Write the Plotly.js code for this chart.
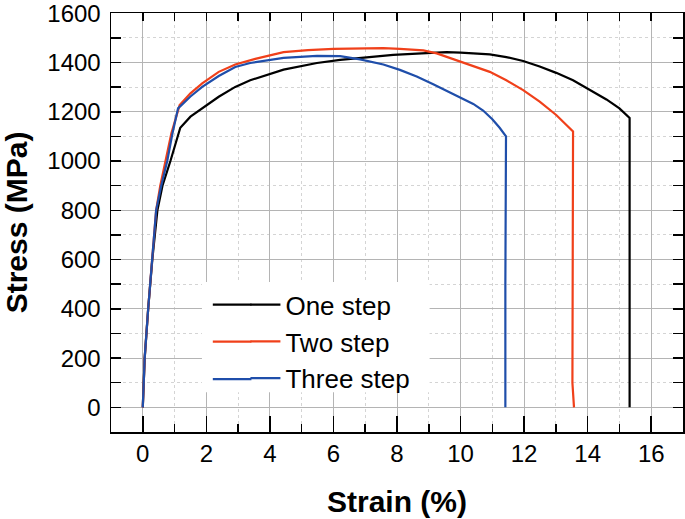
<!DOCTYPE html>
<html>
<head>
<meta charset="utf-8">
<script src="https://cdn.plot.ly/plotly-3.0.1.min.js"></script>
<style>html,body{margin:0;padding:0;background:#fff;}#chart{width:685px;height:519px;}</style>
</head>
<body>
<div id="chart"></div>
<script>
// Series names
const seriesNames = ["One step", "Two step", "Three step"];

// One step (black)
const oneStepStrain = [0, 0.06, 0.17, 0.30, 0.46, 0.62, 0.87, 1.05, 1.18, 1.5, 1.87, 2.39, 2.91, 3.38, 4.43, 5.48, 6.21, 7.05, 7.88, 8.93, 9.56, 10.0, 10.92, 11.44, 11.97, 12.49, 13.01, 13.54, 14.06, 14.59, 15.0, 15.32, 15.32];
const oneStepStress = [0, 200, 400, 600, 800, 900, 1000, 1080, 1135, 1180, 1214, 1261, 1301, 1328, 1371, 1398, 1411, 1422, 1431, 1438, 1442, 1440, 1433, 1422, 1406, 1384, 1358, 1328, 1291, 1250, 1214, 1175, 0];

// Two step (red)
const twoStepStrain = [0, 0.06, 0.17, 0.30, 0.42, 0.55, 0.71, 0.90, 1.16, 1.5, 1.87, 2.39, 2.91, 3.54, 4.43, 5.2, 6.0, 6.8, 7.57, 8.09, 8.83, 9.25, 9.66, 10.4, 10.92, 11.44, 11.97, 12.49, 13.01, 13.54, 13.52, 13.57];
const twoStepStress = [0, 200, 400, 600, 800, 900, 1000, 1113, 1227, 1275, 1315, 1362, 1392, 1415, 1442, 1450, 1455, 1458, 1458, 1455, 1449, 1437, 1419, 1388, 1362, 1328, 1288, 1241, 1187, 1120, 100, 0];

// Three step (blue)
const threeStepStrain = [0, 0.06, 0.17, 0.30, 0.42, 0.58, 0.77, 0.93, 1.11, 1.5, 1.87, 2.39, 2.91, 3.38, 4.43, 5.48, 6.21, 6.84, 7.57, 8.09, 8.62, 9.14, 9.66, 10.0, 10.4, 10.71, 11.0, 11.23, 11.43, 11.41, 11.41];
const threeStepStress = [0, 200, 400, 600, 800, 900, 1000, 1110, 1214, 1262, 1301, 1345, 1382, 1398, 1419, 1427, 1426, 1413, 1392, 1370, 1343, 1312, 1280, 1260, 1232, 1205, 1170, 1135, 1100, 500, 0];

const colors = ["#000000", "#f0401a", "#1f4eaa"];

// Axis ticks
const xTickVals = [0, 2, 4, 6, 8, 10, 12, 14, 16];
const yTickVals = [0, 200, 400, 600, 800, 1000, 1200, 1400, 1600];

const FONT = "Liberation Sans, Arial, sans-serif";

const xs = [oneStepStrain, twoStepStrain, threeStepStrain];
const ys = [oneStepStress, twoStepStress, threeStepStress];
// the third series is drawn on the identical overlaid top axis so that axis (top ticks) is rendered
const xAxisRefs = ["x", "x", "x2"];

const traces = seriesNames.map((n, i) => ({
  x: xs[i], y: ys[i], name: n, type: "scatter", mode: "lines",
  xaxis: xAxisRefs[i], yaxis: "y",
  line: {color: colors[i], width: 2.2}
}));

// legend decoration: white panel + sample-line extensions (paper coords)
const legX0 = 0.159, legX1 = 0.557, legY0 = 0.095, legY1 = 0.358;
const sampleX0 = 0.178, sampleX1 = 0.2455;
const sampleY = [0.3039, 0.2157, 0.1262];

const shapes = [
  {type: "rect", xref: "paper", yref: "paper", x0: legX0, x1: legX1, y0: legY0, y1: legY1,
   fillcolor: "#ffffff", line: {width: 0}, layer: "above"}
].concat(sampleY.map((yy, i) => ({
  type: "line", xref: "paper", yref: "paper", x0: sampleX0, x1: sampleX1, y0: yy, y1: yy,
  line: {color: colors[i], width: 2.2}, layer: "above"
})));

const layout = {
  width: 685, height: 519,
  margin: {l: 111, r: 2, t: 13, b: 87},
  paper_bgcolor: "#ffffff", plot_bgcolor: "#ffffff",
  font: {family: FONT, color: "#000"},
  showlegend: true,
  legend: {x: 0.235, y: 0.36, xanchor: "left", yanchor: "top",
           bgcolor: "rgba(0,0,0,0)", borderwidth: 0, traceorder: "normal",
           font: {family: FONT, size: 26, color: "#000"}},
  xaxis: {
    range: [-1, 17], tickvals: xTickVals, ticks: "inside", ticklen: 16, tickwidth: 1.5, tickcolor: "#000",
    showline: true, linecolor: "#000", linewidth: 1.5, mirror: false, zeroline: false,
    showgrid: true, gridcolor: "#b4b4b4", gridwidth: 1,
    minor: {dtick: 1, ticks: "inside", ticklen: 8, tickwidth: 1.5, tickcolor: "#000",
            showgrid: true, gridcolor: "#d4d4d4", griddash: "dot", gridwidth: 1},
    tickfont: {family: FONT, size: 24, color: "#000"},
    title: {text: "<b>Strain (%)</b>", font: {family: FONT, size: 30, color: "#000"}, standoff: 24}
  },
  xaxis2: {
    overlaying: "x", side: "top", anchor: "y", range: [-1, 17], dtick: 1, tick0: 0,
    ticks: "inside", ticklen: 8, tickwidth: 1.5, tickcolor: "#000", showticklabels: false,
    showgrid: false, zeroline: false, showline: true, linecolor: "#000", linewidth: 1.5
  },
  yaxis: {
    range: [-100, 1601], tickvals: yTickVals, ticks: "inside", ticklen: 10, tickwidth: 1.5, tickcolor: "#000",
    showline: true, linecolor: "#000", linewidth: 1.5, mirror: "allticks", zeroline: false,
    showgrid: true, gridcolor: "#b4b4b4", gridwidth: 1, ticklabelstandoff: 4, ticklabeloverflow: "allow",
    minor: {dtick: 100, ticks: "inside", ticklen: 5, tickwidth: 1.5, tickcolor: "#000",
            showgrid: true, gridcolor: "#d4d4d4", griddash: "dot", gridwidth: 1},
    tickfont: {family: FONT, size: 24, color: "#000"},
    title: {text: "<b>Stress (MPa)</b>", font: {family: FONT, size: 30, color: "#000"}, standoff: 14}
  },
  shapes: shapes
};

Plotly.newPlot("chart", traces, layout, {staticPlot: true, displayModeBar: false});
</script>
</body>
</html>
